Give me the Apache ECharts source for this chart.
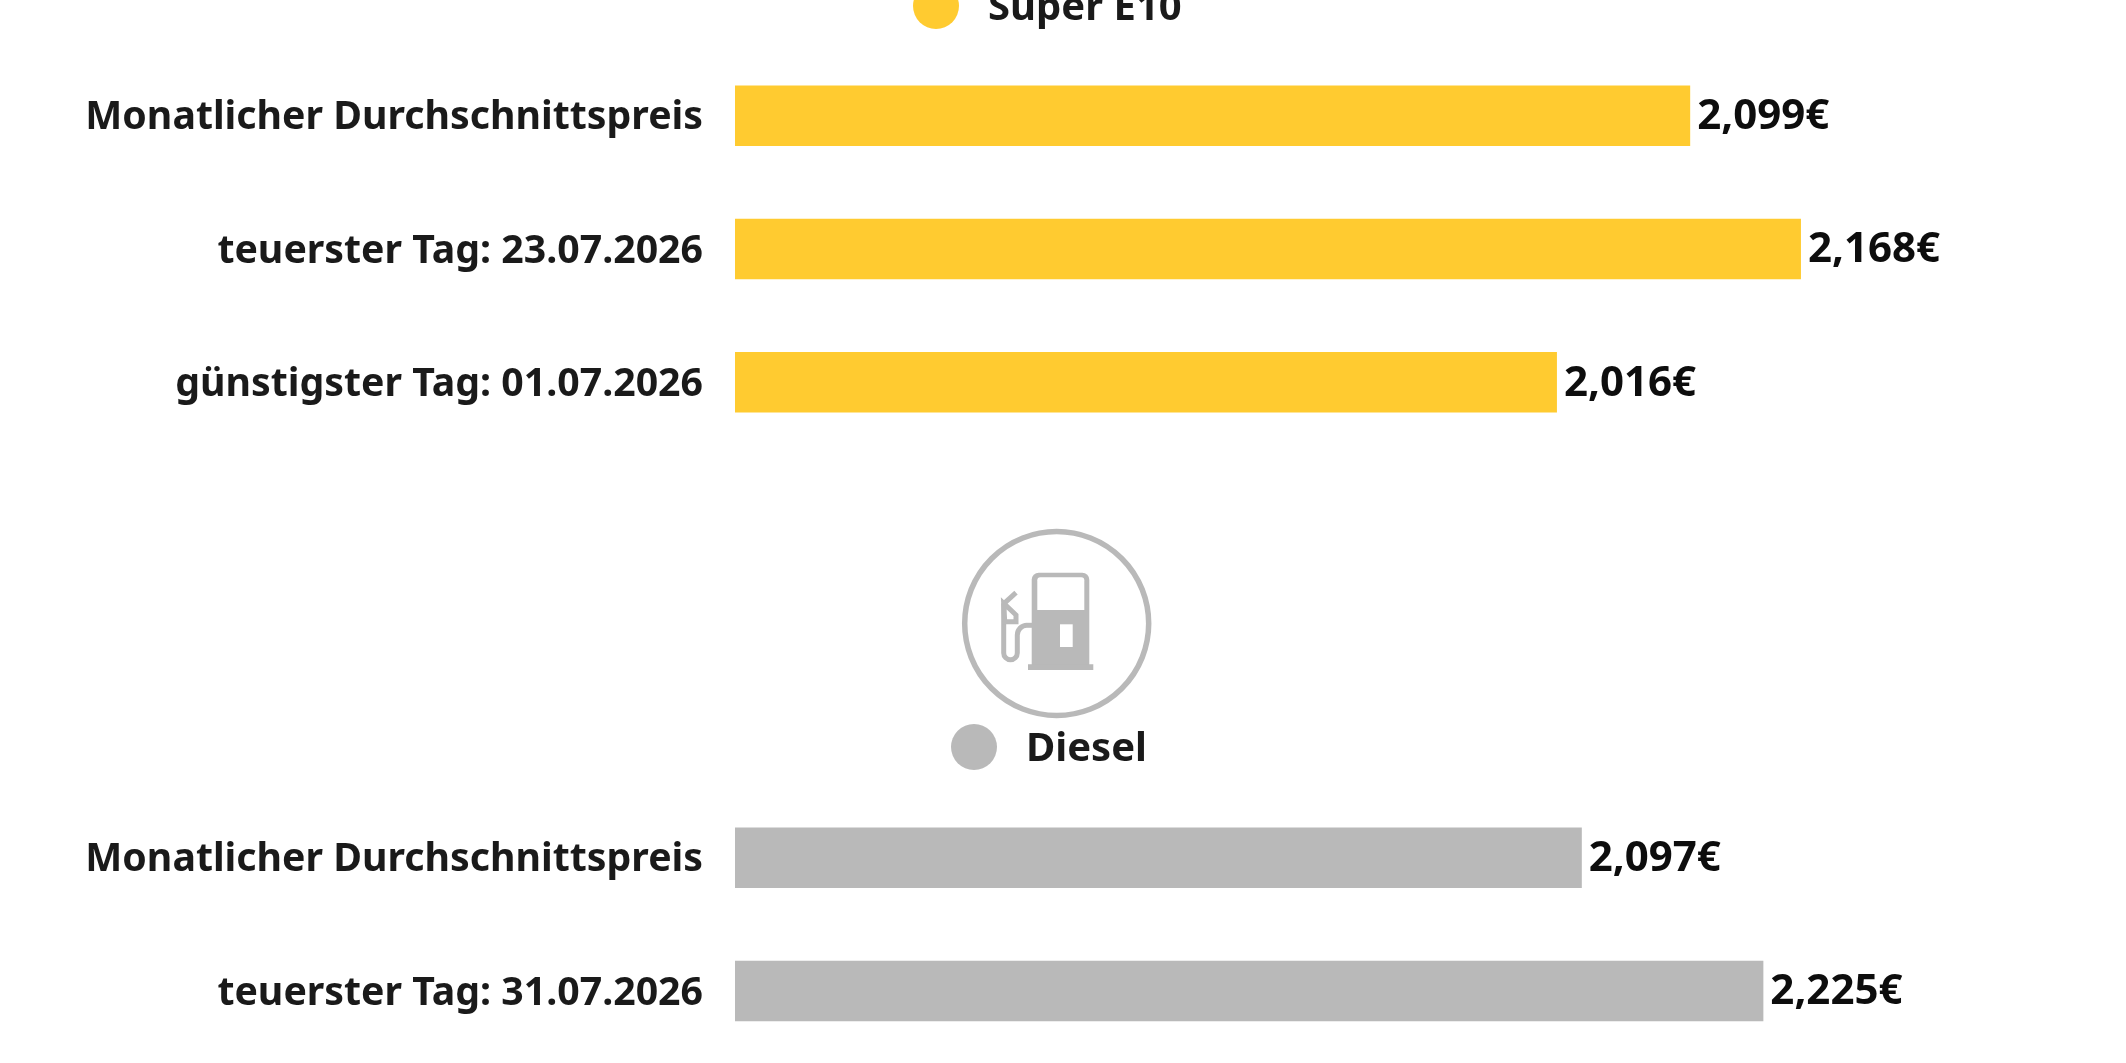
<!DOCTYPE html>
<html><head><meta charset="utf-8">
<style>html,body{margin:0;padding:0;background:#fff}#c{width:2126px;height:1063px}</style>
<script src="https://cdn.jsdelivr.net/npm/echarts@6/dist/echarts.min.js"></script>
</head><body><div id="c"></div>
<script>
const e10Categories = ['Monatlicher Durchschnittspreis','teuerster Tag: 23.07.2026','günstigster Tag: 01.07.2026'];
const e10Values = [2.099,2.168,2.016];
const dieselCategories = ['Monatlicher Durchschnittspreis','teuerster Tag: 31.07.2026'];
const dieselValues = [2.097,2.225];
const YELLOW='#FFCB30', GRAY='#B9B9B9', INK='#1a1a1a', FONT='Noto Sans';
const fmt = p => p.value.toFixed(3).replace('.',',')+'€';
const rt=(size)=>({color:INK,fontFamily:FONT,fontWeight:'bold',fontSize:size,padding:[5,0,0,0]});
const catAxis=(i,d)=>({type:'category',gridIndex:i,data:d,inverse:true,axisLine:{show:false},axisTick:{show:false},
  axisLabel:{margin:32,color:INK,fontFamily:FONT,fontWeight:'bold',fontSize:39.25,formatter:v=>'{a|'+v+'}',rich:{a:rt(39.25)}}});
const valAxis=(i,min,max)=>({type:'value',gridIndex:i,min,max,show:false,splitLine:{show:false}});
const bar=(name,i,d,c)=>({name,type:'bar',xAxisIndex:i,yAxisIndex:i,data:d,barWidth:60.5,itemStyle:{color:c},
  label:{show:true,position:'right',distance:7,offset:[0,1.5],formatter:fmt,color:'#0d0d0d',fontFamily:FONT,fontWeight:'bold',fontSize:42},
  emphasis:{disabled:true},animation:false});
const leg=(name,left,top)=>({data:[{name,icon:'circle'}],left,top,itemWidth:46,itemHeight:46,padding:0,selectedMode:false,
  formatter:'{a|{name}}',
  textStyle:{color:INK,fontFamily:FONT,fontWeight:'bold',fontSize:40,padding:[0,0,0,24],rich:{a:rt(40)}}});
const G=GRAY;
const option={backgroundColor:'#fff',animation:false,
 grid:[{left:735,top:49,width:1200,height:400},{left:735,top:791,width:1200,height:266.7}],
 yAxis:[catAxis(0,e10Categories),catAxis(1,dieselCategories)],
 xAxis:[valAxis(0,1.504,2.2515),valAxis(1,1.5,2.346)],
 legend:[leg('Super E10',913,-17),leg('Diesel',951,724)],
 series:[bar('Super E10',0,e10Values,YELLOW),bar('Diesel',1,dieselValues,GRAY)],
 graphic:{elements:[
  {type:'circle',shape:{cx:1056.7,cy:623.5,r:92},style:{fill:'transparent',stroke:G,lineWidth:5.5}},
  {type:'rect',shape:{x:1031.7,y:572.7,width:57.6,height:92.3,r:[7,7,0,0]},style:{fill:G}},
  {type:'rect',shape:{x:1037.3,y:577.3,width:47,height:32.7,r:[3,3,0,0]},style:{fill:'#fff'}},
  {type:'rect',shape:{x:1060,y:624.3,width:12.7,height:22.7},style:{fill:'#fff'}},
  {type:'rect',shape:{x:1028,y:664.3,width:65.3,height:5.7},style:{fill:G}},
  {type:'polyline',shape:{points:[[1003.7,603.3],[1003.7,653]]},style:{stroke:G,lineWidth:5,fill:null}},
  {type:'arc',shape:{cx:1010.5,cy:653,r:6.8,startAngle:0,endAngle:Math.PI,clockwise:true},style:{stroke:G,lineWidth:5,fill:null}},
  {type:'polyline',shape:{points:[[1017.3,653],[1017.3,635]]},style:{stroke:G,lineWidth:5,fill:null}},
  {type:'arc',shape:{cx:1027,cy:635,r:9.7,startAngle:Math.PI,endAngle:Math.PI*1.5,clockwise:true},style:{stroke:G,lineWidth:5,fill:null}},
  {type:'polyline',shape:{points:[[1027,625.3],[1033,625.3]]},style:{stroke:G,lineWidth:5,fill:null}},
  {type:'polyline',shape:{points:[[1005,602.7],[1016,592.7]]},style:{stroke:G,lineWidth:5,fill:null}},
  {type:'polygon',shape:{points:[[1003.7,603.3],[1016,615],[1016,621.7],[1004.7,621.7]]},style:{stroke:G,lineWidth:5,fill:'transparent'}}
 ]}
};
echarts.init(document.getElementById('c'),null,{renderer:'canvas'}).setOption(option);
</script></body></html>
